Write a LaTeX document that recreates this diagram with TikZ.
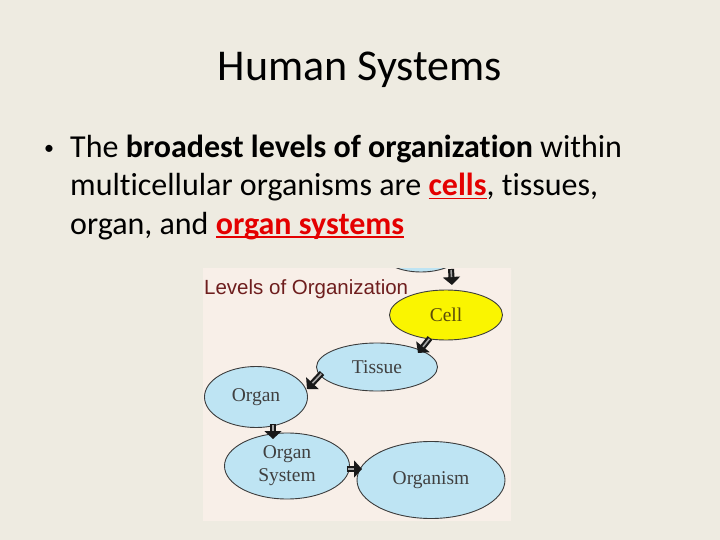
\documentclass[tikz,border=0pt]{standalone}
\usepackage{fontspec}
\setmainfont{Carlito}[Ligatures=NoCommon]
\newfontfamily\timesf{Liberation Serif}
\newfontfamily\arialf{Liberation Sans}
\usetikzlibrary{shapes.geometric,arrows.meta}
\definecolor{slidebg}{RGB}{238,235,225}
\definecolor{panelbg}{RGB}{248,239,232}
\definecolor{cellblue}{RGB}{190,228,243}
\definecolor{cellyellow}{RGB}{250,245,0}
\definecolor{lvlred}{RGB}{110,30,30}
\definecolor{hired}{RGB}{228,0,0}
\definecolor{ringgray}{RGB}{60,60,60}
\definecolor{olivetext}{RGB}{90,75,10}
\newcommand\redul[1]{{\setbox0\hbox{#1}\rlap{\rule[-3.5pt]{\wd0}{1.6pt}}\box0}}
\begin{document}
\begin{tikzpicture}[x=1pt,y=-1pt,
 level/.style={ellipse,draw=ringgray,line width=0.9pt,fill=cellblue,inner sep=0pt,
   font=\timesf\fontsize{19.5}{23}\selectfont,text=black!75,align=center},
 blk/.style={line width=6pt,-{Triangle[length=8pt,width=17pt]},black!90},
 blkin/.style={line width=1.6pt,gray!70,shorten >=8pt,shorten <=1pt},
 body/.style={anchor=base west,inner sep=0pt,font=\fontsize{32}{38}\selectfont}]
\fill[slidebg] (0,0) rectangle (720,540);
\useasboundingbox (0,0) rectangle (720,540);
\node[font=\fontsize{44}{52}\selectfont,anchor=base,inner sep=0pt] (title) at (360,81) {Human Systems};
\node[anchor=base,inner sep=0pt,font=\fontsize{20}{24}\selectfont] (bullet) at (49,155) {•};
\node[body] (l1) at (70,158) {The \textbf{broadest levels of organization} within};
\node[body] (l2) at (70,196) {multicellular organisms are \textcolor{hired}{\redul{\textbf{cells}}}, tissues,};
\node[body] (l3) at (70,234) {organ, and \textcolor{hired}{\redul{\textbf{organ systems}}}};
% panel
\fill[panelbg] (203,268) rectangle (511,521);
\begin{scope}
\clip (203,268) rectangle (511,521);
\node[level,minimum width=84pt,minimum height=44pt] (top) at (421,250) {};
\end{scope}
\node[anchor=base west,inner sep=0pt,font=\arialf\fontsize{20.5}{24}\selectfont,text=lvlred] (lvl) at (204,294) {Levels of Organization};
\node[level,fill=cellyellow,text=olivetext,minimum width=113pt,minimum height=50pt] (cell) at (446,315) {Cell};
\node[level,minimum width=121pt,minimum height=48pt] (tissue) at (377,367) {Tissue};
\node[level,minimum width=103pt,minimum height=61pt] (organ) at (256,397) {Organ};
\node[level,minimum width=125pt,minimum height=66pt] (orgsys) at (287,466) {Organ\\System};
\node[level,minimum width=148pt,minimum height=77pt] (organism) at (431,480) {Organism};
% arrows
\coordinate (a1s) at (451,269); \coordinate (a1e) at (452,285);
\coordinate (a2s) at (430,338); \coordinate (a2e) at (418,353);
\coordinate (a3s) at (322,373); \coordinate (a3e) at (307,389);
\coordinate (a4s) at (273,424); \coordinate (a4e) at (273,439);
\coordinate (a5s) at (347,469); \coordinate (a5e) at (362,469);
\foreach \i in {1,...,5}{
  \draw[blk] (a\i s) -- (a\i e);
  \draw[blkin] (a\i s) -- (a\i e);
}
\end{tikzpicture}
\end{document}
